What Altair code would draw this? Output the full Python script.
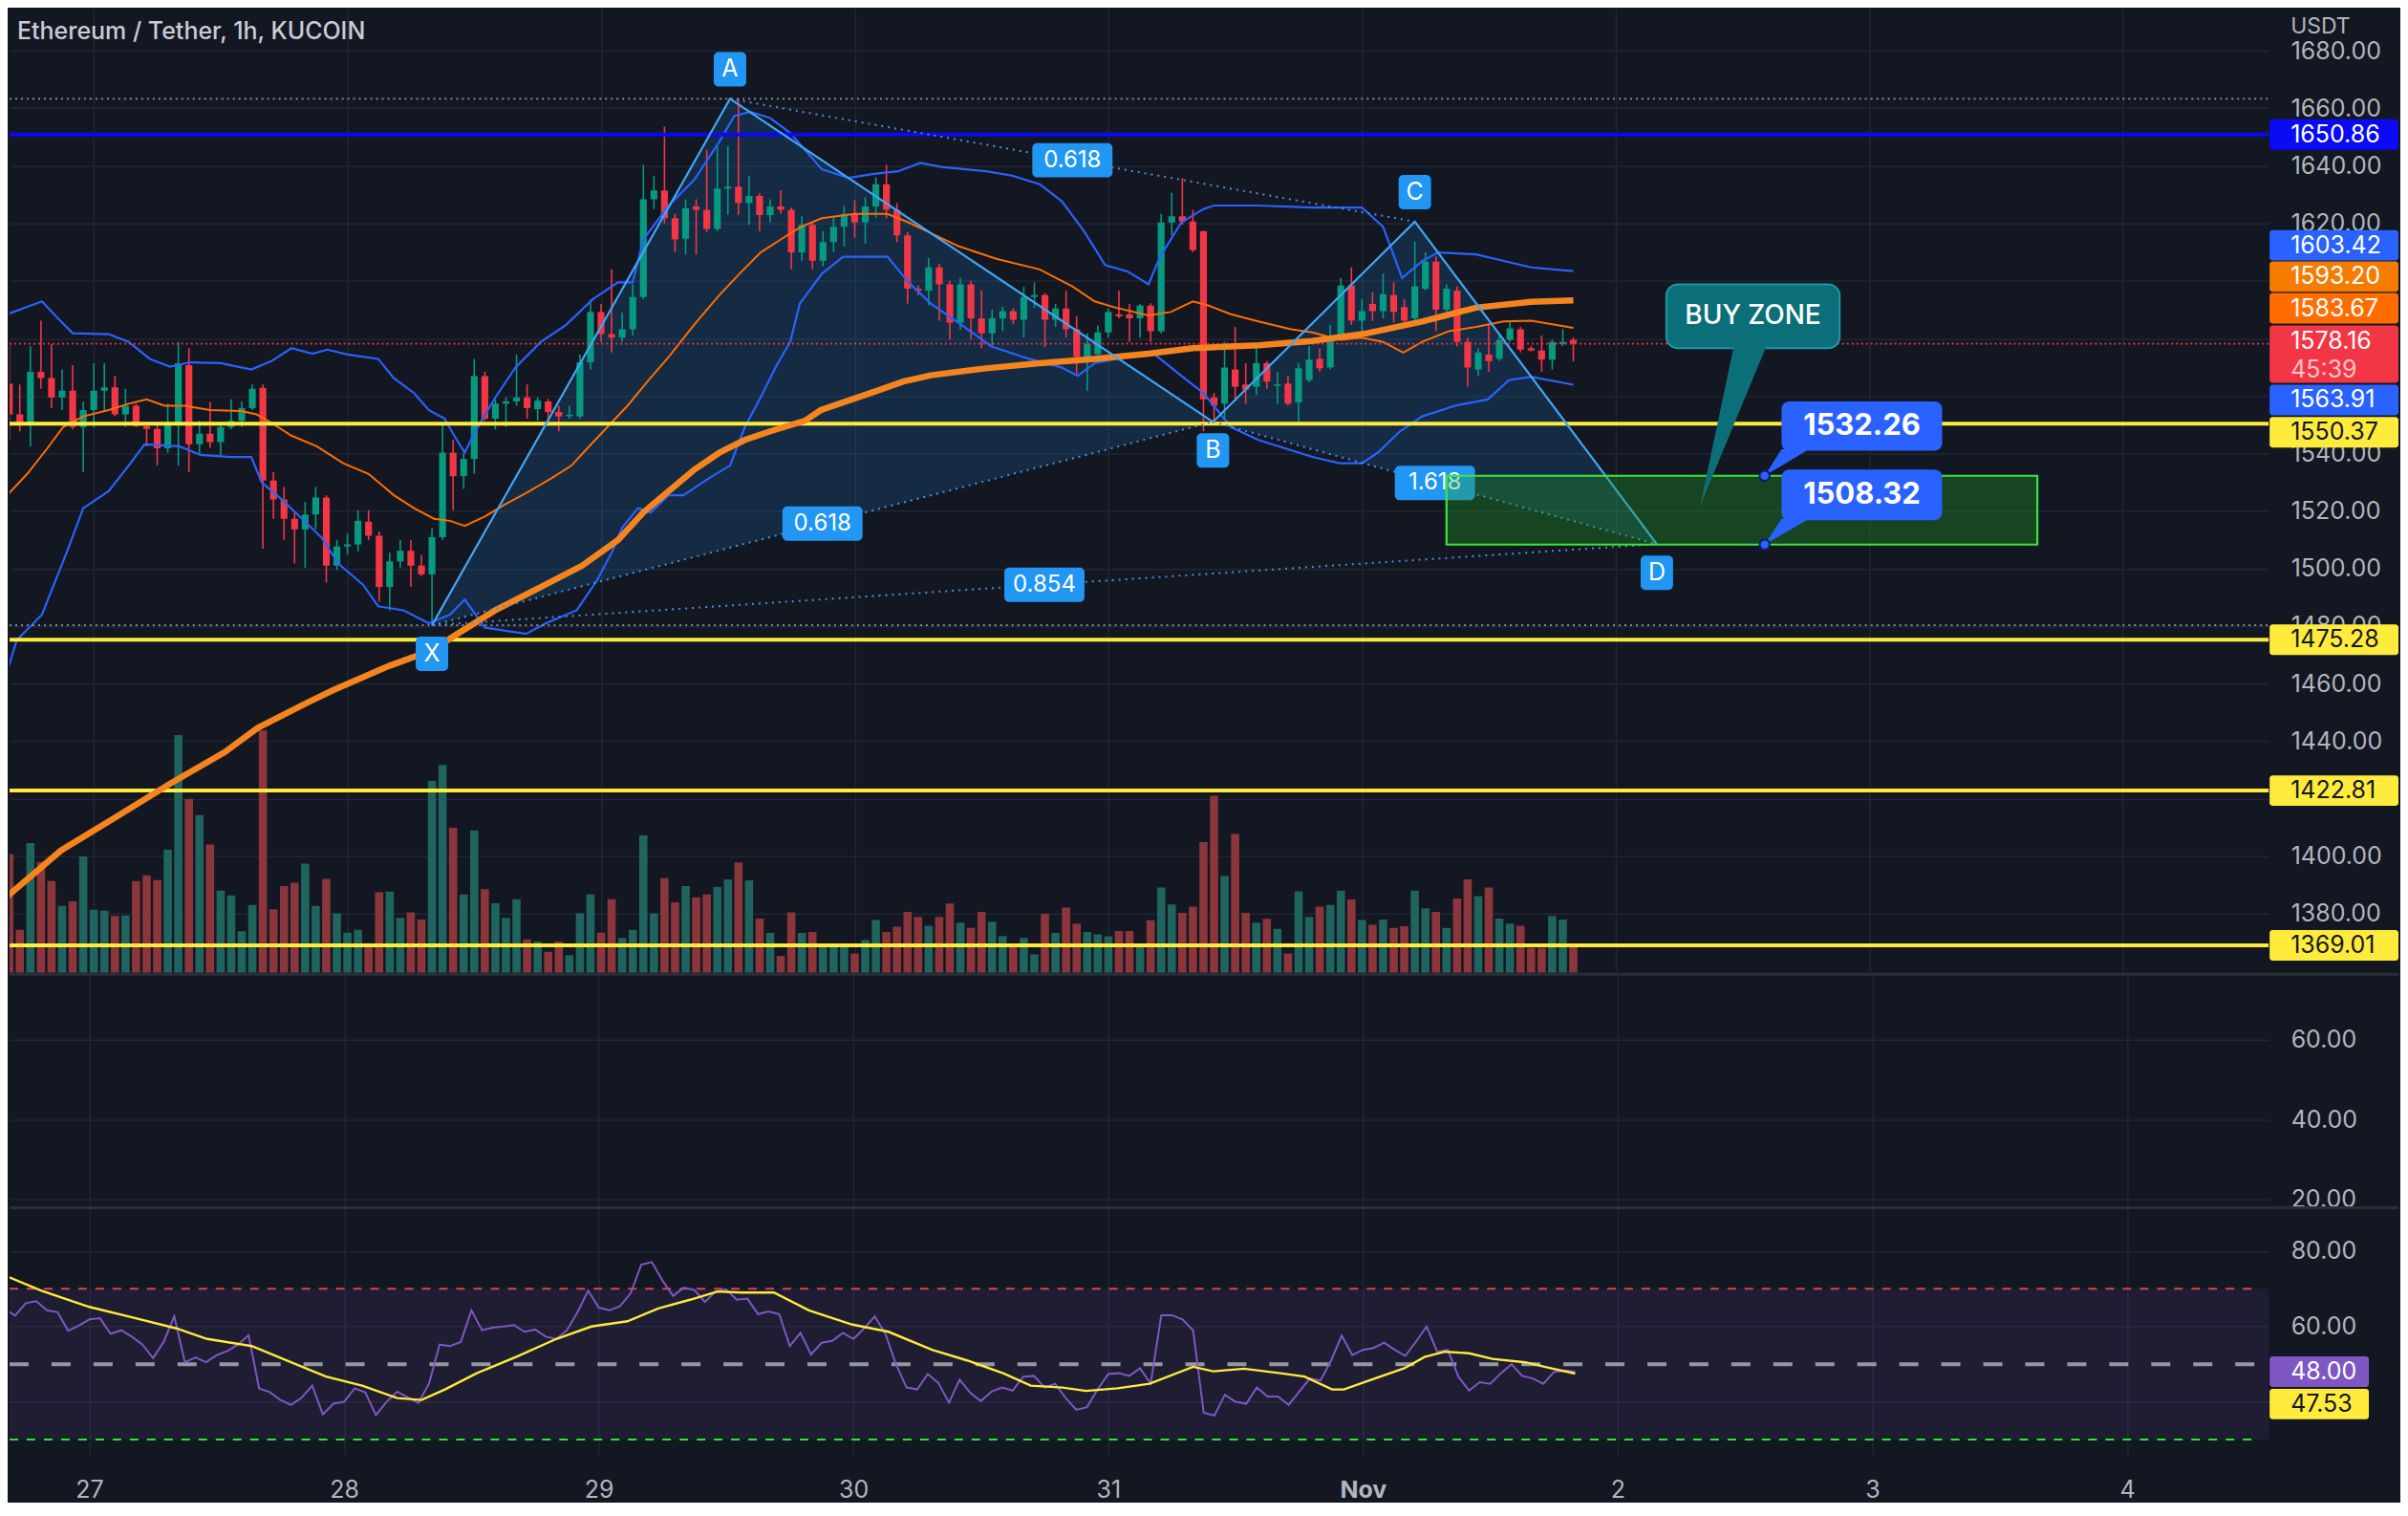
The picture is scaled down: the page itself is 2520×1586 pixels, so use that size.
import json
import altair as alt
import pandas as pd

# ====================== values ======================
opens = [
    1564.3, 1553.6, 1550.0, 1568.4, 1566.2, 1559.5, 1561.8, 1549.2, 1555.1, 1561.8,
    1563.0, 1553.6, 1556.6, 1549.5, 1548.5, 1541.8, 1550.7, 1570.7, 1543.2, 1546.9,
    1544.0, 1549.2, 1551.4, 1555.8, 1562.8, 1530.6, 1524.0, 1517.3, 1513.6, 1518.8,
    1524.7, 1501.0, 1507.7, 1508.4, 1516.3, 1511.4, 1493.6, 1502.5, 1506.2, 1501.0,
    1498.0, 1510.9, 1540.3, 1532.1, 1538.1, 1566.9, 1552.1, 1557.3, 1558.1, 1559.5,
    1555.4, 1558.1, 1554.4, 1553.0, 1552.9, 1571.7, 1589.2, 1581.5, 1580.3, 1583.2,
    1594.4, 1628.4, 1631.4, 1621.8, 1614.7, 1625.9, 1624.7, 1618.1, 1632.1, 1632.8,
    1627.0, 1629.5, 1622.9, 1625.9, 1624.7, 1609.9, 1619.5, 1607.0, 1613.5, 1618.8,
    1623.3, 1620.3, 1625.9, 1633.6, 1624.7, 1615.8, 1597.3, 1596.6, 1604.7, 1598.8,
    1585.5, 1598.8, 1587.0, 1581.8, 1587.0, 1589.5, 1586.5, 1594.4, 1595.1, 1586.5,
    1590.4, 1583.2, 1573.6, 1574.5, 1582.1, 1588.4, 1588.4, 1587.0, 1591.4, 1582.5,
    1620.3, 1622.5, 1620.6, 1617.3, 1559.5, 1557.3, 1569.2, 1564.0, 1563.2, 1571.4,
    1563.5, 1564.3, 1557.8, 1565.5, 1572.9, 1569.9, 1581.0, 1598.4, 1586.2, 1592.0,
    1589.5, 1595.1, 1590.9, 1587.0, 1597.3, 1606.7, 1590.0, 1596.6, 1578.8, 1569.2,
    1574.4, 1572.9, 1579.5, 1583.2, 1576.6, 1575.8, 1572.6, 1578.1, 1579.5]
highs = [
    1578.8, 1564.0, 1577.3, 1586.2, 1578.0, 1569.2, 1570.7, 1558.1, 1571.4, 1571.4,
    1566.9, 1562.5, 1557.3, 1550.5, 1549.9, 1557.3, 1578.8, 1576.6, 1551.4, 1558.0,
    1551.0, 1558.8, 1558.1, 1564.0, 1564.0, 1533.6, 1528.4, 1519.5, 1523.2, 1528.4,
    1525.5, 1510.0, 1512.1, 1520.3, 1520.3, 1512.9, 1505.5, 1509.9, 1509.9, 1504.7,
    1514.0, 1549.9, 1544.7, 1540.3, 1572.9, 1568.4, 1558.8, 1559.5, 1574.4, 1564.0,
    1559.5, 1559.0, 1556.6, 1556.6, 1574.4, 1593.6, 1592.0, 1604.0, 1589.0, 1598.8,
    1640.3, 1636.6, 1653.6, 1623.3, 1628.4, 1628.4, 1645.6, 1647.0, 1647.0, 1663.3,
    1636.6, 1630.5, 1628.4, 1631.4, 1625.5, 1622.5, 1620.3, 1617.3, 1622.0, 1626.0,
    1628.0, 1629.0, 1636.0, 1640.3, 1627.0, 1617.0, 1598.5, 1608.0, 1606.0, 1600.0,
    1601.0, 1600.0, 1596.6, 1590.0, 1591.0, 1590.5, 1598.0, 1599.5, 1595.8, 1592.0,
    1596.6, 1587.7, 1581.8, 1584.5, 1590.5, 1596.6, 1592.0, 1592.0, 1592.2, 1623.3,
    1630.6, 1635.8, 1624.7, 1617.3, 1561.0, 1578.8, 1584.0, 1571.4, 1576.6, 1572.2,
    1568.4, 1567.0, 1571.4, 1577.3, 1576.6, 1584.7, 1601.0, 1604.7, 1593.6, 1596.0,
    1602.5, 1599.5, 1593.6, 1613.6, 1610.0, 1608.5, 1598.8, 1598.1, 1580.3, 1576.6,
    1584.7, 1581.8, 1586.2, 1584.0, 1577.3, 1581.0, 1579.5, 1583.2, 1580.3]
lows = [
    1544.7, 1547.7, 1542.5, 1562.5, 1555.8, 1555.1, 1548.4, 1533.6, 1549.2, 1554.4,
    1552.9, 1549.2, 1549.2, 1542.5, 1535.8, 1540.3, 1535.8, 1533.6, 1539.5, 1542.0,
    1539.5, 1548.4, 1549.2, 1555.1, 1506.9, 1517.3, 1510.0, 1501.8, 1500.3, 1513.6,
    1495.1, 1499.5, 1505.0, 1506.0, 1509.9, 1488.4, 1485.5, 1500.3, 1493.6, 1497.3,
    1480.3, 1509.9, 1520.3, 1527.7, 1533.0, 1551.4, 1548.4, 1549.2, 1556.6, 1552.1,
    1551.4, 1551.4, 1547.7, 1552.1, 1552.1, 1569.2, 1578.8, 1575.1, 1578.8, 1581.0,
    1593.6, 1625.0, 1620.0, 1610.0, 1609.2, 1609.2, 1617.0, 1617.3, 1623.0, 1623.0,
    1619.5, 1617.3, 1620.3, 1623.3, 1604.0, 1607.0, 1604.0, 1605.0, 1610.0, 1612.0,
    1615.0, 1613.0, 1622.0, 1621.8, 1613.5, 1592.1, 1595.0, 1591.6, 1586.2, 1579.5,
    1583.0, 1579.5, 1576.6, 1577.0, 1582.5, 1585.0, 1580.3, 1590.5, 1577.0, 1584.0,
    1580.3, 1567.7, 1561.8, 1571.5, 1580.3, 1587.0, 1578.8, 1580.3, 1578.8, 1581.8,
    1615.8, 1619.5, 1609.9, 1547.7, 1549.9, 1552.1, 1558.1, 1557.3, 1560.3, 1562.5,
    1557.3, 1556.6, 1549.9, 1564.7, 1568.4, 1569.2, 1580.3, 1584.7, 1580.3, 1586.0,
    1587.0, 1585.5, 1584.7, 1585.5, 1596.6, 1582.5, 1587.0, 1577.3, 1563.2, 1567.0,
    1568.4, 1572.1, 1578.8, 1575.1, 1575.5, 1568.4, 1569.2, 1577.3, 1572.0]
closes = [
    1553.6, 1550.0, 1568.4, 1566.2, 1559.5, 1561.8, 1549.2, 1555.1, 1561.8, 1563.0,
    1553.6, 1556.6, 1549.5, 1548.5, 1541.8, 1550.7, 1571.4, 1543.2, 1546.9, 1544.0,
    1549.2, 1551.4, 1555.8, 1562.5, 1530.6, 1524.0, 1517.3, 1513.6, 1518.8, 1524.7,
    1501.0, 1507.7, 1508.4, 1516.6, 1511.4, 1493.6, 1502.5, 1506.2, 1501.0, 1498.0,
    1510.9, 1540.3, 1532.1, 1538.1, 1566.9, 1552.1, 1557.3, 1558.1, 1559.5, 1555.8,
    1558.4, 1554.4, 1552.9, 1553.5, 1571.7, 1589.2, 1581.5, 1580.3, 1583.2, 1594.4,
    1628.4, 1631.4, 1621.8, 1614.4, 1625.2, 1624.7, 1618.1, 1632.1, 1632.8, 1627.0,
    1629.5, 1622.9, 1625.9, 1624.7, 1609.9, 1619.5, 1607.0, 1613.5, 1618.8, 1623.3,
    1620.3, 1625.9, 1633.6, 1624.7, 1615.8, 1597.3, 1596.6, 1604.7, 1598.8, 1585.5,
    1598.8, 1587.0, 1581.8, 1587.0, 1589.5, 1586.5, 1594.4, 1595.1, 1586.5, 1590.4,
    1583.2, 1573.6, 1578.1, 1582.1, 1589.2, 1587.7, 1587.0, 1591.4, 1582.5, 1620.3,
    1622.5, 1620.6, 1610.7, 1558.8, 1556.6, 1569.9, 1563.2, 1562.2, 1571.4, 1565.0,
    1564.0, 1557.3, 1569.6, 1572.6, 1569.6, 1581.0, 1598.4, 1586.2, 1589.5, 1589.5,
    1595.4, 1589.2, 1586.2, 1598.1, 1606.7, 1590.0, 1597.3, 1578.8, 1569.9, 1575.1,
    1572.1, 1579.5, 1583.5, 1576.1, 1575.8, 1572.6, 1578.8, 1578.8, 1578.16]
volumes = [  # thousands
    4.9, 1.77, 5.35, 4.57, 3.78, 2.76, 2.95, 4.8, 2.6, 2.56,
    2.34, 2.36, 3.78, 4.02, 3.82, 5.08, 9.8, 7.17, 6.5, 5.29,
    3.39, 3.19, 1.71, 2.8, 10.0, 2.62, 3.58, 3.71, 4.5, 2.76,
    3.87, 2.45, 1.65, 1.77, 1.22, 3.32, 3.35, 2.27, 2.49, 2.2,
    7.91, 8.57, 5.98, 3.23, 5.87, 3.45, 2.87, 2.27, 3.03, 1.38,
    1.29, 0.87, 1.29, 0.73, 2.45, 3.23, 1.65, 3.03, 1.44, 1.77,
    5.66, 2.45, 3.9, 2.91, 3.58, 3.11, 3.23, 3.54, 3.85, 4.55,
    3.81, 2.24, 1.64, 0.7, 2.49, 1.64, 1.68, 1.09, 1.09, 1.09,
    0.8, 1.35, 2.18, 1.68, 1.90, 2.51, 2.30, 1.94, 2.30, 2.86,
    2.07, 1.85, 2.51, 2.11, 1.52, 1.09, 1.44, 0.76, 2.43, 1.64,
    2.69, 2.03, 1.68, 1.59, 1.51, 1.72, 1.72, 1.09, 2.17, 3.52,
    2.82, 2.47, 2.73, 5.39, 7.30, 4.00, 5.72, 2.47, 2.07, 2.23,
    1.81, 0.80, 3.36, 2.30, 2.73, 2.80, 3.39, 3.02, 2.18, 1.98,
    2.20, 1.85, 1.92, 3.39, 2.66, 2.51, 1.85, 3.06, 3.85, 3.16,
    3.52, 2.24, 2.03, 1.94, 1.02, 1.02, 2.34, 2.20, 1.09]
rsi_values = [
    64.8, 62.9, 66.2, 66.7, 64.3, 63.8, 58.9, 60.2, 61.9, 62.2,
    58.1, 59.0, 57.3, 55.2, 51.6, 55.9, 62.7, 50.5, 51.8, 50.5,
    52.4, 53.5, 55.2, 57.7, 43.5, 42.6, 40.5, 39.2, 41.1, 44.3,
    36.7, 39.5, 40.0, 43.6, 42.5, 36.5, 40.0, 42.7, 41.2, 39.7,
    44.8, 55.2, 54.8, 55.9, 64.3, 59.0, 59.7, 60.0, 60.4, 58.6,
    59.2, 57.3, 56.7, 59.0, 63.8, 69.5, 65.0, 64.3, 65.4, 68.8,
    76.4, 77.1, 72.2, 68.1, 70.3, 69.7, 66.5, 69.3, 69.9, 67.1,
    67.4, 63.3, 64.0, 63.3, 54.8, 58.3, 52.6, 55.7, 56.2, 58.3,
    56.7, 59.5, 62.7, 58.1, 50.0, 43.8, 43.3, 47.4, 45.0, 39.8,
    45.9, 42.4, 40.2, 42.7, 43.8, 43.0, 46.7, 46.9, 43.8, 44.8,
    41.0, 37.9, 38.6, 43.3, 47.4, 47.6, 46.9, 48.9, 44.8, 63.0,
    63.0, 61.9, 59.0, 37.1, 36.4, 41.9, 40.0, 39.5, 43.8, 41.4,
    41.4, 39.2, 42.7, 46.2, 45.7, 51.0, 57.6, 52.4, 53.8, 54.3,
    55.7, 53.8, 52.2, 56.0, 60.0, 53.3, 53.8, 46.7, 43.0, 45.2,
    44.8, 47.6, 50.0, 46.9, 46.2, 44.8, 47.9, 48.3, 48.0]

first_bar_hour = -8   # first bar = 26 Oct 16:00 (hours counted from 27 Oct 00:00)

bb_upper_h = [-8.2, -6.3, -4.9, -3.4, -2.0, 1.4, 3.3, 5.3, 7.2, 9.1, 12.0, 14.9, 16.8, 18.7, 20.7,
              22.1, 24.0, 26.9, 28.4, 30.3, 31.7, 33.2, 34.1, 35.1, 36.1, 38.0, 39.9, 42.3, 44.7, 47.2,
              49.6, 51.0, 52.0, 54.4, 56.8, 59.2, 60.6, 62.1, 64.0, 65.9, 68.9, 71.4, 74.0, 76.1, 78.2,
              80.2, 84.4, 86.9, 89.5, 91.6, 93.7, 95.7, 97.8, 99.8, 100.9, 102.9, 105.0, 106.0, 110.2,
              115.3, 120.0, 122.0, 123.8, 125.7, 127.2, 130.8, 136.0, 140.0]
bb_upper_v = [1588.4, 1591.0, 1592.9, 1587.0, 1581.8, 1581.5, 1578.8, 1572.9, 1570.2, 1571.7, 1571.4,
              1569.2, 1572.1, 1576.6, 1574.7, 1576.1, 1574.4, 1572.9, 1566.2, 1561.0, 1555.1, 1552.1,
              1546.2, 1540.3, 1547.7, 1559.5, 1569.9, 1578.8, 1584.7, 1593.6, 1599.5, 1599.5, 1614.4,
              1626.2, 1635.1, 1648.4, 1657.3, 1658.8, 1656.6, 1651.4, 1638.8, 1635.8, 1637.3, 1638.1,
              1641.0, 1639.6, 1638.1, 1636.6, 1633.6, 1627.7, 1617.3, 1605.5, 1603.3, 1598.8, 1608.4,
              1620.3, 1625.0, 1626.2, 1626.2, 1625.5, 1625.5, 1618.8, 1601.0, 1606.9, 1609.9, 1609.2,
              1604.7, 1603.4]
bb_lower_h = [-8.2, -7.3, -4.9, -2.5, -1.0, 1.4, 3.3, 4.8, 8.1, 10.1, 13.0, 14.9, 15.9, 17.8, 19.7,
              21.6, 23.1, 25.5, 26.9, 29.3, 31.7, 33.7, 35.1, 37.0, 40.9, 42.8, 45.7, 47.6, 49.1, 50.0,
              51.5, 52.7, 54.4, 55.8, 58.2, 60.2, 61.6, 63.1, 64.5, 65.9, 66.8, 68.9, 70.9, 75.1, 77.1,
              79.2, 81.8, 84.9, 88.5, 91.6, 93.1, 94.7, 98.8, 100.4, 102.9, 105.0, 107.6, 110.2, 115.3,
              117.9, 120.0, 121.5, 123.6, 125.7, 128.8, 131.9, 133.9, 136.0, 140.0]
bb_lower_v = [1464.0, 1475.1, 1484.0, 1506.2, 1521.0, 1526.9, 1535.8, 1543.2, 1542.5, 1539.5, 1538.8,
              1538.8, 1529.9, 1524.0, 1517.3, 1510.6, 1501.8, 1494.3, 1486.9, 1485.5, 1481.0, 1484.0,
              1489.2, 1479.5, 1477.3, 1481.0, 1485.5, 1495.8, 1506.2, 1514.3, 1521.0, 1519.5, 1525.5,
              1525.5, 1531.4, 1535.8, 1549.2, 1559.5, 1569.9, 1578.8, 1592.1, 1602.5, 1608.4, 1608.4,
              1599.5, 1592.1, 1585.5, 1577.3, 1572.9, 1569.9, 1567.0, 1571.4, 1574.4, 1574.4, 1567.0,
              1561.0, 1549.2, 1544.7, 1538.8, 1536.6, 1536.6, 1540.3, 1547.7, 1552.9, 1556.6, 1558.8,
              1565.5, 1566.7, 1563.9]
bb_basis_h = [-8.2, -6.3, -4.4, -2.9, -1.0, 1.4, 3.3, 5.0, 6.7, 8.6, 11.0, 13.9, 15.4, 16.8, 18.7,
              21.1, 23.6, 26.0, 28.4, 30.3, 32.2, 33.7, 35.1, 37.0, 39.0, 40.9, 43.3, 45.2, 46.7, 48.6,
              50.5, 52.5, 54.4, 56.8, 59.2, 61.1, 63.1, 65.0, 66.9, 68.9, 72.0, 75.1, 77.1, 79.2, 81.8,
              85.4, 89.5, 92.6, 94.7, 96.7, 99.8, 101.9, 104.0, 105.5, 107.6, 110.2, 113.3, 115.3, 117.9,
              120.0, 122.0, 123.9, 125.7, 128.2, 130.8, 133.4, 136.0, 140.0]
bb_basis_v = [1525.5, 1532.9, 1541.8, 1549.2, 1552.9, 1555.1, 1557.3, 1558.8, 1556.6, 1556.6, 1555.1,
              1554.8, 1553.6, 1550.7, 1546.2, 1542.5, 1536.6, 1532.9, 1525.5, 1521.0, 1517.3, 1516.6,
              1514.8, 1518.1, 1522.5, 1526.2, 1531.4, 1535.8, 1541.8, 1549.2, 1556.6, 1565.5, 1573.6,
              1584.7, 1595.1, 1602.5, 1609.9, 1614.4, 1618.8, 1621.8, 1623.3, 1623.3, 1620.3, 1616.6,
              1612.1, 1607.7, 1604.0, 1598.1, 1592.9, 1590.7, 1588.0, 1589.2, 1592.9, 1591.4, 1588.4,
              1585.9, 1583.2, 1582.1, 1579.5, 1580.3, 1578.8, 1575.1, 1578.8, 1582.5, 1584.0, 1585.9,
              1586.2, 1583.7]
ma_h = [-8.2, -3.1, 2.1, 7.2, 12.4, 15.5, 20.2, 22.7, 27.9, 32.0, 34.1, 38.0, 42.3, 46.2, 49.6, 52.0,
        54.4, 56.8, 59.2, 61.6, 64.0, 67.3, 68.8, 74.1, 76.6, 79.2, 84.4, 89.5, 94.7, 99.8, 104.0,
        110.2, 115.3, 120.5, 125.7, 130.8, 136.0, 140.0]
ma_v = [1386.0, 1402.0, 1413.6, 1425.2, 1436.2, 1444.6, 1453.4, 1457.8, 1466.1, 1471.6, 1476.6, 1485.5,
        1493.6, 1501.0, 1509.9, 1519.5, 1526.9, 1534.3, 1540.3, 1544.7, 1547.7, 1551.4, 1555.1, 1561.8,
        1565.0, 1567.2, 1569.6, 1571.4, 1572.9, 1574.7, 1576.6, 1577.6, 1579.1, 1581.8, 1585.9, 1590.7,
        1592.7, 1593.2]
rsi_ma_h = [-8.2, -4.5, 0.0, 4.1, 8.2, 11.1, 15.3, 19.0, 22.3, 25.7, 29.0, 31.3, 33.5, 36.5, 40.2, 44.0,
            47.3, 50.7, 53.6, 56.6, 59.2, 61.5, 64.5, 67.8, 71.9, 75.3, 79.4, 82.7, 86.1, 88.7, 91.7,
            93.9, 96.9, 99.9, 104.0, 105.9, 108.8, 112.2, 114.5, 117.1, 118.2, 120.1, 123.9, 125.8,
            127.7, 130.0, 132.2, 135.3, 137.6, 140.0]
rsi_ma_v = [73.8, 69.5, 65.2, 62.4, 59.5, 56.7, 54.8, 50.5, 46.7, 44.3, 41.0, 40.5, 43.3, 47.6, 51.9,
            56.7, 60.0, 61.4, 64.8, 67.1, 69.3, 69.0, 69.0, 64.3, 60.5, 58.6, 53.8, 51.0, 47.6, 44.3,
            43.8, 42.9, 43.6, 44.8, 49.3, 48.1, 48.8, 47.6, 46.7, 43.3, 43.3, 45.2, 48.9, 51.9, 53.3,
            52.9, 51.4, 50.5, 49.0, 47.5]

day_ticks = [0, 24, 48, 72, 96, 120, 144, 168, 192]
day_labels = ["27", "28", "29", "30", "31", "Nov", "2", "3", "4"]
price_ticks = list(range(1380, 1700, 20))
price_ticks_hidden = [1420, 1560, 1580, 1600]     # covered by the price tags
mid_ticks = [20, 40, 60]
rsi_ticks = [40, 60, 80]
rsi_ticks_hidden = [40]
rsi_levels = [70, 50, 30]

title_text = "Ethereum / Tether, 1h, KUCOIN"
currency = "USDT"
blue_level = 1650.86
yellow_levels = [1550.37, 1475.28, 1422.81, 1369.01]
last_price = 1578.16
countdown = "45:39"
upper_last, ma_last, basis_last, lower_last = 1603.42, 1593.20, 1583.67, 1563.91
rsi_last, rsi_ma_last = 48.00, 47.53

pattern_names = ["X", "A", "B", "C", "D"]
pattern_h = [32.0, 60.2, 105.9, 125.0, 147.9]
pattern_p = [1480.3, 1663.3, 1551.0, 1620.6, 1508.5]
ratio_legs = [("X", "B", "0.618"), ("A", "C", "0.618"), ("B", "D", "1.618"), ("X", "D", "0.854")]

zone_low, zone_high = 1508.32, 1532.26
zone_h = [128.0, 183.9]
buy_label = "BUY ZONE"
buy_box_h, buy_box_p = [148.8, 165.2], [1576.6, 1598.8]
buy_tail_h, buy_tip = [155.2, 158.3], (152.0, 1521.8)
note_box_h, note_tail_h, note_anchor_h = [159.7, 174.9], [159.7, 162.3], 158.1
note_prices = [1532.26, 1508.32]
note_box_p = [(1541.0, 1558.1), (1516.8, 1534.4)]

# ====================== styling / layout ======================
BG, GRID, TXT, FONT = "#131722", "#222633", "#b2b5be", "Inter"
UP, DN, VUP, VDN = "#089981", "#f23645", "#1f645e", "#8b363b"
W, H_MAIN, H_MID, H_RSI = 2367, 1010, 245, 262
TAG_R = W + 136
X_DOMAIN = [-7.52, 205.34]
P_DOMAIN = [1359.47, 1694.68]
V_DOMAIN = [0, 39.76]
MID_DOMAIN = [18.1, 76.8]
RSI_DOMAIN = [25.4, 91.8]
UP_TEST = "datum.close >= datum.open"
LBL = 25

xs = alt.Scale(domain=X_DOMAIN, nice=False, zero=False)
ps = alt.Scale(domain=P_DOMAIN, nice=False, zero=False)
label_expr = f"{json.dumps(day_labels)}[indexof({json.dumps(day_ticks)}, datum.value)]"
nov_tick = day_ticks[day_labels.index("Nov")]

x_axis_plain = alt.Axis(values=day_ticks, grid=True, gridColor=GRID, gridWidth=1.5, labels=False,
                        ticks=False, domain=False, title=None)
x_axis_bottom = alt.Axis(values=day_ticks, grid=True, gridColor=GRID, gridWidth=1.5, ticks=False,
                         domain=False, title=None, labelExpr=label_expr, labelFontSize=LBL,
                         labelColor=TXT, labelFont=FONT, labelPadding=34, labelBaseline="middle",
                         labelFlush=False,
                         labelFontWeight={"condition": {"test": f"datum.value == {nov_tick}", "value": "bold"},
                                          "value": "normal"})


def right_axis(values, hidden=()):
    expr = f"indexof({json.dumps(list(hidden))}, datum.value) >= 0 ? '' : format(datum.value, '.2f')"
    return alt.Axis(orient="right", values=values, labelExpr=expr, grid=True, gridColor=GRID,
                    gridWidth=1.5, ticks=False, domain=False, title=None, labelFontSize=LBL,
                    labelColor=TXT, labelFont=FONT, labelPadding=23, labelAlign="left",
                    labelFlush=False, labelOverlap=False, labelBaseline="middle")


price_axis = right_axis(price_ticks, price_ticks_hidden)


def X(field="h", axis=x_axis_plain):
    return alt.X(f"{field}:Q", scale=xs, axis=axis)


def Y(field):
    return alt.Y(f"{field}:Q", scale=ps, axis=price_axis)


def tri_rows(points, key):
    (x0, y0), (x1, y1), (x2, y2) = sorted(points)
    cut = y0 + (y2 - y0) * (x1 - x0) / (x2 - x0)
    return [dict(k=key, h=x0, top=y0, bot=y0), dict(k=key, h=x1, top=y1, bot=cut),
            dict(k=key, h=x2, top=y2, bot=y2)]


one = pd.DataFrame({"z": [0]})

# ---------------- main price pane ----------------
n_bars = len(opens)
cdf = pd.DataFrame(dict(h=[first_bar_hour + i for i in range(n_bars)], open=opens, high=highs,
                        low=lows, close=closes, vol=volumes, rsi=rsi_values))

vol_layer = alt.Chart(cdf).mark_bar(size=8.6, orient="vertical", clip=True).encode(
    x=X(), y=alt.Y("vol:Q", scale=alt.Scale(domain=V_DOMAIN, nice=False), axis=None),
    color=alt.condition(UP_TEST, alt.value(VUP), alt.value(VDN)))

P = {nm: (h, p) for nm, h, p in zip(pattern_names, pattern_h, pattern_p)}
tri_df = pd.DataFrame(tri_rows([P["X"], P["A"], P["B"]], "XAB") + tri_rows([P["B"], P["C"], P["D"]], "BCD"))
tri_fill = alt.Chart(tri_df).mark_area(color="#2196f3", opacity=0.16, clip=True).encode(
    x=X(), y=Y("top"), y2="bot:Q", detail="k:N")

wicks = alt.Chart(cdf).mark_rule(strokeWidth=1.6, clip=True).encode(
    x=X(), y=Y("low"), y2="high:Q", color=alt.condition(UP_TEST, alt.value(UP), alt.value(DN)))
bodies = alt.Chart(cdf).mark_bar(size=7.2, orient="vertical", clip=True).encode(
    x=X(), y=Y("open"), y2="close:Q", color=alt.condition(UP_TEST, alt.value(UP), alt.value(DN)))


def series_line(hs, vs, color, width, **kw):
    d = pd.DataFrame({"h": hs, "p": vs})
    return alt.Chart(d).mark_line(color=color, strokeWidth=width, clip=True, **kw).encode(x=X(), y=Y("p"))


bb_up = series_line(bb_upper_h, bb_upper_v, "#2962ff", 2.2)
bb_lo = series_line(bb_lower_h, bb_lower_v, "#2962ff", 2.2)
bb_mid = series_line(bb_basis_h, bb_basis_v, "#ff6d00", 2.0)
ma_line = series_line(ma_h, ma_v, "#f5841f", 6.5)


def hrule(values, color, width, dash=None):
    d = pd.DataFrame({"p": values})
    kw = dict(color=color, strokeWidth=width)
    if dash:
        kw["strokeDash"] = dash
    return alt.Chart(d).mark_rule(**kw).encode(x=alt.value(0), x2=alt.value(W), y=Y("p"))


hi_lo = hrule([P["A"][1], P["X"][1]], "#9598a1", 1.6, [2, 4])
last_line = hrule([last_price], DN, 1.6, [2, 3])
yellow = hrule(yellow_levels, "#ffeb3b", 4)
blue = hrule([blue_level], "#0a0af5", 4)

pat_df = pd.DataFrame({"i": range(5), "h": pattern_h, "p": pattern_p})
pat_line = alt.Chart(pat_df).mark_line(color="#42a5f5", strokeWidth=2.2, clip=True).encode(
    x=X(), y=Y("p"), order="i:Q")

leg_rows, leg_labels = [], []
for a, b, lab in ratio_legs:
    for nm in (a, b):
        leg_rows.append(dict(leg=a + b, h=P[nm][0], p=P[nm][1]))
    leg_labels.append(dict(h=(P[a][0] + P[b][0]) / 2, p=(P[a][1] + P[b][1]) / 2, t=lab))
legs = alt.Chart(pd.DataFrame(leg_rows)).mark_line(color="#4a90d9", strokeWidth=2, strokeDash=[2, 5],
                                                  clip=True).encode(x=X(), y=Y("p"), detail="leg:N")
lab_df = pd.DataFrame(leg_labels)
ratio_box = alt.Chart(lab_df).mark_rect(color="#2196f3", cornerRadius=5, xOffset=-42, x2Offset=42,
                                        yOffset=-18, y2Offset=18).encode(x=X(), x2="h:Q", y=Y("p"), y2="p:Q")
ratio_txt = alt.Chart(lab_df).mark_text(color="white", fontSize=24, font=FONT).encode(
    x=X(), y=Y("p"), text="t:N")

zone = alt.Chart(pd.DataFrame({"h0": [zone_h[0]], "h1": [zone_h[1]], "lo": [zone_low], "hi": [zone_high]})
                 ).mark_rect(fill="#20a020", fillOpacity=0.33, stroke="#3ae63a", strokeWidth=2.2).encode(
    x=X("h0"), x2="h1:Q", y=Y("lo"), y2="hi:Q")

letter_layers = []
for names, off in ((["A", "C"], -31), (["X", "B", "D"], 30)):
    d = pd.DataFrame({"h": [P[nm][0] for nm in names], "p": [P[nm][1] for nm in names], "t": names})
    letter_layers.append(alt.Chart(d).mark_rect(color="#2196f3", cornerRadius=5, xOffset=-17, x2Offset=17,
                                                yOffset=off - 18, y2Offset=off + 18).encode(
        x=X(), x2="h:Q", y=Y("p"), y2="p:Q"))
    letter_layers.append(alt.Chart(d).mark_text(color="white", fontSize=25, font=FONT, dy=off).encode(
        x=X(), y=Y("p"), text="t:N"))

# BUY ZONE callout
buy_tail = alt.Chart(pd.DataFrame(tri_rows([(buy_tail_h[0], buy_box_p[0] + 1.0),
                                            (buy_tail_h[1], buy_box_p[0] + 1.0), buy_tip], "t"))).mark_area(
    color="#0b6f7a").encode(x=X(), y=Y("top"), y2="bot:Q")
buy_box = alt.Chart(pd.DataFrame({"h0": [buy_box_h[0]], "h1": [buy_box_h[1]], "p0": [buy_box_p[0]],
                                  "p1": [buy_box_p[1]]})).mark_rect(
    fill="#0b6f7a", stroke="#1b9aa3", strokeWidth=2, cornerRadius=12).encode(
    x=X("h0"), x2="h1:Q", y=Y("p0"), y2="p1:Q")
buy_txt = alt.Chart(pd.DataFrame({"h": [sum(buy_box_h) / 2], "p": [sum(buy_box_p) / 2], "t": [buy_label]})
                    ).mark_text(color="white", fontSize=28, font=FONT, fontWeight=500).encode(
    x=X(), y=Y("p"), text="t:N")

note_layers = []
for price, (b0, b1) in zip(note_prices, note_box_p):
    tail = tri_rows([(note_tail_h[0], b0 + 0.5), (note_tail_h[1], b0 + 0.5), (note_anchor_h, price)], "n")
    note_layers.append(alt.Chart(pd.DataFrame(tail)).mark_area(color="#2962ff").encode(
        x=X(), y=Y("top"), y2="bot:Q"))
    note_layers.append(alt.Chart(pd.DataFrame({"h0": [note_box_h[0]], "h1": [note_box_h[1]], "p0": [b0],
                                               "p1": [b1]})).mark_rect(fill="#2962ff", cornerRadius=8).encode(
        x=X("h0"), x2="h1:Q", y=Y("p0"), y2="p1:Q"))
    note_layers.append(alt.Chart(pd.DataFrame({"h": [sum(note_box_h) / 2], "p": [(b0 + b1) / 2],
                                               "t": [f"{price:.2f}"]})).mark_text(
        color="white", fontSize=31, font=FONT, fontWeight="bold").encode(x=X(), y=Y("p"), text="t:N"))
    note_layers.append(alt.Chart(pd.DataFrame({"h": [note_anchor_h], "p": [price]})).mark_point(
        filled=True, size=110, color="#2962ff", stroke="#0d1b6e", strokeWidth=2, opacity=1).encode(
        x=X(), y=Y("p")))

title = alt.Chart(pd.DataFrame({"t": [title_text]})).mark_text(
    align="left", baseline="middle", fontSize=25, font=FONT, fontWeight=500, color="#c9ccd4").encode(
    x=alt.value(8), y=alt.value(24), text="t:N")
usdt = alt.Chart(pd.DataFrame({"t": [currency]})).mark_text(
    align="left", baseline="middle", fontSize=23, font=FONT, color=TXT).encode(
    x=alt.value(W + 23), y=alt.value(19), text="t:N")

tag_layers = []
main_tags = [(blue_level, "#0a0af5", "white", 0), (upper_last, "#2962ff", "white", -27),
             (ma_last, "#f57c00", "white", -25), (basis_last, "#ff6d00", "white", -20.5),
             (lower_last, "#2962ff", "white", 16), (yellow_levels[0], "#ffeb3b", "#131722", 9),
             (yellow_levels[1], "#ffeb3b", "#131722", 0), (yellow_levels[2], "#ffeb3b", "#131722", 0),
             (yellow_levels[3], "#ffeb3b", "#131722", 0)]


def tag(price, fill, fg, off, yfun, right, top=-16, bottom=16, extra=None):
    d = pd.DataFrame({"p": [price], "t": [f"{price:.2f}"]})
    out = [alt.Chart(d).mark_rect(fill=fill, cornerRadius=3, yOffset=off + top, y2Offset=off + bottom).encode(
               x=alt.value(W + 1), x2=alt.value(right), y=yfun("p"), y2="p:Q"),
           alt.Chart(d).mark_text(align="left", baseline="middle", dy=off, fontSize=LBL, font=FONT,
                                  color=fg).encode(x=alt.value(W + 23), y=yfun("p"), text="t:N")]
    if extra:
        de = pd.DataFrame({"p": [price], "t": [extra[0]]})
        out.append(alt.Chart(de).mark_text(align="left", baseline="middle", dy=extra[1], fontSize=LBL,
                                           font=FONT, color="#f9c4c9").encode(
            x=alt.value(W + 23), y=yfun("p"), text="t:N"))
    return out


for pr, fill, fg, off in main_tags:
    tag_layers += tag(pr, fill, fg, off, Y, TAG_R)
tag_layers += tag(last_price, DN, "white", -3, Y, TAG_R, top=-16, bottom=44, extra=(countdown, 27))

price_group = alt.layer(
    tri_fill, wicks, bodies, bb_up, bb_lo, bb_mid, hi_lo, last_line, yellow, blue, ma_line,
    pat_line, legs, ratio_box, ratio_txt, zone, *letter_layers, buy_box, buy_tail, buy_txt,
    *note_layers, title, usdt, *tag_layers)

main_pane = alt.layer(vol_layer, price_group).resolve_scale(y="independent").properties(
    width=W, height=H_MAIN)

# ---------------- empty middle pane ----------------
mid_scale = alt.Scale(domain=MID_DOMAIN, nice=False, zero=False)
mid_pts = alt.Chart(pd.DataFrame({"h": day_ticks[:3], "v": mid_ticks})).mark_point(opacity=0).encode(
    x=X(), y=alt.Y("v:Q", scale=mid_scale, axis=right_axis(mid_ticks)))
sep1 = alt.Chart(one).mark_rule(color="#2a2e39", strokeWidth=3).encode(
    x=alt.value(0), x2=alt.value(TAG_R), y=alt.value(1.5))
mid_pane = alt.layer(mid_pts, sep1).properties(width=W, height=H_MID)

# ---------------- RSI pane ----------------
rs = alt.Scale(domain=RSI_DOMAIN, nice=False, zero=False)
rsi_axis = right_axis(rsi_ticks, rsi_ticks_hidden)


def RY(field):
    return alt.Y(f"{field}:Q", scale=rs, axis=rsi_axis)


def XB(field="h"):
    return X(field, axis=x_axis_bottom)


band = alt.Chart(pd.DataFrame({"lo": [rsi_levels[2]], "hi": [rsi_levels[0]]})).mark_rect(
    color="#7e57c2", opacity=0.1).encode(x=alt.value(0), x2=alt.value(W), y=RY("lo"), y2="hi:Q")
lvl_styles = [("#e0424f", 2, [9, 9]), ("#9598a1", 4, [20, 24]), ("#2ee62e", 2, [9, 9])]
lvl_layers = [alt.Chart(pd.DataFrame({"v": [lv]})).mark_rule(color=c, strokeWidth=sw, strokeDash=da).encode(
    x=alt.value(0), x2=alt.value(W - 12), y=RY("v")) for lv, (c, sw, da) in zip(rsi_levels, lvl_styles)]
rsi_line = alt.Chart(cdf).mark_line(color="#7e57c2", strokeWidth=2, clip=True).encode(x=XB(), y=RY("rsi"))
rsi_ma_line = alt.Chart(pd.DataFrame({"h": rsi_ma_h, "v": rsi_ma_v})).mark_line(
    color="#ffeb3b", strokeWidth=2.4, clip=True).encode(x=XB(), y=RY("v"))
sep2 = alt.Chart(one).mark_rule(color="#2a2e39", strokeWidth=3).encode(
    x=alt.value(0), x2=alt.value(TAG_R), y=alt.value(1))
rsi_tags = tag(rsi_last, "#7e57c2", "white", 0, RY, W + 105) + \
    tag(rsi_ma_last, "#ffeb3b", "#131722", 32, RY, W + 105)
rsi_pane = alt.layer(band, *lvl_layers, rsi_line, rsi_ma_line, sep2, *rsi_tags).properties(
    width=W, height=H_RSI)

chart = alt.vconcat(main_pane, mid_pane, rsi_pane, spacing=0, bounds="flush").resolve_scale(
    x="independent", y="independent").properties(padding=0).configure(
    background=BG, font=FONT).configure_view(strokeWidth=0)

chart.save("out.html", embed_options={"renderer": "svg", "actions": False})
